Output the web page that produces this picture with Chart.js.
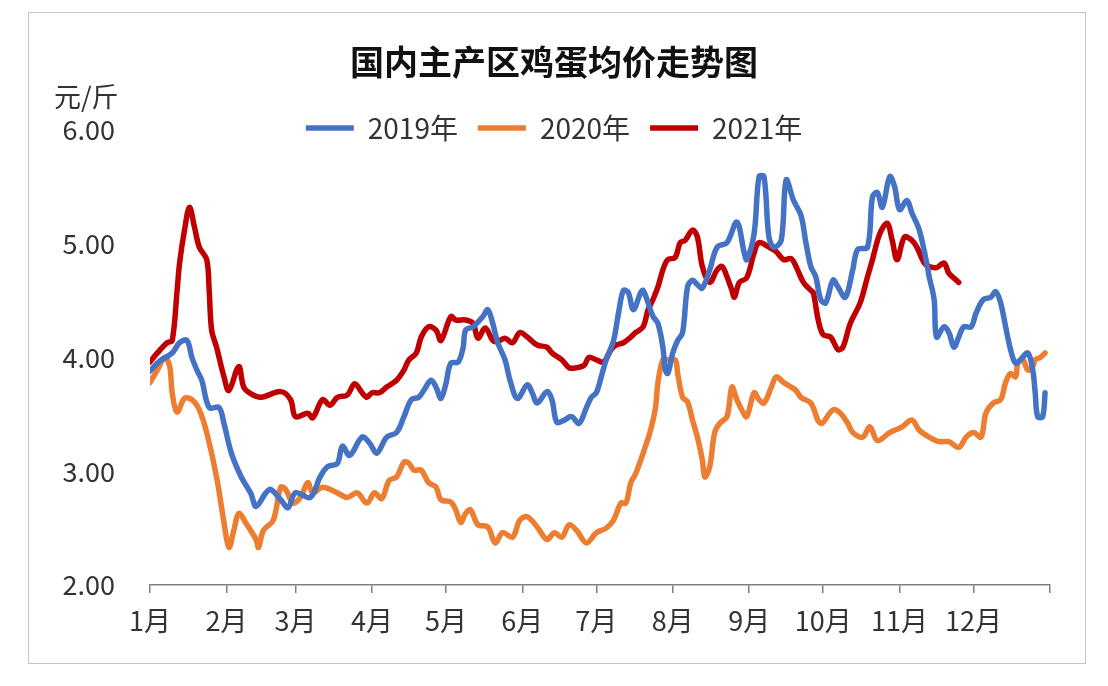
<!DOCTYPE html>
<html>
<head>
<meta charset="utf-8">
<title>国内主产区鸡蛋均价走势图</title>
<script src="https://cdn.jsdelivr.net/npm/chart.js@4.4.1/dist/chart.umd.min.js"></script>
<style>
  body { margin: 0; background: #fff; }
  #wrap { position: relative; width: 1108px; height: 686px; }
  #frame { position: absolute; left: 28px; top: 12px; width: 1056px; height: 650px;
           border: 1.5px solid #c4c4c4; pointer-events: none; }
</style>
</head>
<body>
<div id="wrap">
  <canvas id="eggChart" width="1108" height="686"></canvas>
  <div id="frame"></div>
</div>
<script>
// day of year (0 = 1月1日) and price in 元/斤
const days2019 = [0,4,9,12,15,17,19,21,24,28,
  30,33,37,41,43,47,49,53,56,59,
  65,69,72,76,78,81,86,89,92,96,
  100,103,106,109,111,114,116,118,120,122,
  125,127,128,131,135,137,139,141,144,146,
  149,153,155,157,161,163,165,168,171,174,
  177,179,181,183,185,188,190,192,194,196,
  199,200,202,204,206,208,209,210,212,214,
  216,218,220,222,224,227,230,234,238,241,
  242,245,247,249,251,253,256,258,261,264,
  266,268,270,272,274,277,279,282,285,287,
  291,293,295,297,300,302,304,307,309,312,
  315,316,318,319,322,324,326,328,330,333,
  335,338,341,343,345,347,349,351,353,356,
  358,359,360,362,363];
const price2019 = [3.88,3.97,4.04,4.13,4.15,4.00,3.89,3.80,3.56,3.56,
  3.42,3.16,2.95,2.80,2.69,2.81,2.84,2.75,2.68,2.81,
  2.77,2.95,3.04,3.07,3.22,3.14,3.30,3.25,3.16,3.30,
  3.34,3.48,3.63,3.65,3.71,3.80,3.74,3.64,3.77,3.95,
  3.96,4.09,4.24,4.27,4.36,4.42,4.30,4.13,3.98,3.80,
  3.64,3.76,3.69,3.60,3.70,3.63,3.43,3.45,3.48,3.42,
  3.56,3.65,3.69,3.83,3.98,4.15,4.39,4.59,4.57,4.42,
  4.57,4.59,4.48,4.36,4.30,4.09,3.89,3.86,4.04,4.15,
  4.22,4.62,4.68,4.64,4.61,4.77,4.97,5.01,5.19,4.92,
  4.86,5.09,5.59,5.59,5.06,4.97,5.03,5.56,5.38,5.25,
  5.01,4.80,4.71,4.51,4.48,4.68,4.62,4.53,4.77,4.95,
  4.97,5.41,5.45,5.32,5.59,5.50,5.30,5.38,5.27,5.12,
  4.83,4.71,4.51,4.18,4.27,4.22,4.09,4.18,4.27,4.27,
  4.39,4.51,4.53,4.58,4.48,4.27,4.07,3.95,3.98,4.04,
  3.89,3.69,3.48,3.48,3.69];

const days2020 = [0,3,6,8,9,11,14,17,20,23,
  27,30,32,34,36,39,43,44,46,50,
  53,55,58,61,64,66,70,76,80,84,
  88,91,94,97,100,103,105,107,110,113,
  116,118,122,124,126,128,130,133,137,140,
  143,147,150,153,157,161,164,167,170,173,
  177,181,185,188,191,193,195,197,200,203,
  205,206,208,210,213,214,216,218,220,222,
  224,225,227,229,231,234,236,238,240,242,
  245,247,249,252,254,257,260,262,264,268,
  272,277,280,283,285,289,292,295,300,305,
  309,312,316,320,324,328,331,334,337,339,
  342,345,347,349,351,352,354,356,358,359,
  361,363];
const price2020 = [3.78,3.89,4.00,3.92,3.69,3.52,3.64,3.63,3.54,3.34,
  2.95,2.55,2.33,2.48,2.63,2.54,2.40,2.33,2.48,2.57,
  2.86,2.84,2.72,2.77,2.90,2.81,2.86,2.81,2.77,2.81,
  2.72,2.81,2.76,2.92,2.95,3.08,3.07,3.01,3.01,2.90,
  2.86,2.75,2.73,2.66,2.55,2.63,2.66,2.53,2.51,2.37,
  2.46,2.42,2.57,2.60,2.51,2.40,2.46,2.42,2.53,2.48,
  2.37,2.46,2.50,2.57,2.72,2.72,2.90,2.98,3.16,3.36,
  3.56,3.78,3.98,3.98,3.98,3.86,3.65,3.61,3.45,3.30,
  3.10,2.95,3.04,3.34,3.42,3.48,3.74,3.63,3.54,3.48,
  3.69,3.63,3.60,3.74,3.83,3.78,3.74,3.71,3.65,3.60,
  3.42,3.54,3.51,3.42,3.34,3.30,3.39,3.27,3.34,3.39,
  3.45,3.36,3.30,3.26,3.26,3.21,3.30,3.34,3.30,3.51,
  3.60,3.63,3.78,3.86,3.83,3.95,3.98,3.89,3.92,3.98,
  4.00,4.04];

const days2021 = [0,3,7,9,11,12,14,16,18,20,
  23,24,25,27,30,32,36,38,41,45,
  53,57,59,64,66,70,73,76,80,83,
  86,88,90,93,96,100,103,105,108,110,
  113,116,118,122,124,128,131,133,136,139,
  141,144,147,150,153,157,161,163,167,170,
  173,176,178,181,184,187,189,192,195,197,
  200,202,204,206,208,210,213,215,217,220,
  222,224,227,230,232,234,236,237,239,242,
  245,247,251,254,257,260,262,265,268,269,
  271,273,276,279,281,284,288,291,293,296,
  299,301,303,306,309,311,314,316,319,322,
  324,327,328];
const price2021 = [3.96,4.04,4.13,4.15,4.59,4.83,5.12,5.32,5.15,4.97,
  4.86,4.59,4.24,4.09,3.83,3.71,3.92,3.74,3.68,3.65,
  3.70,3.63,3.48,3.51,3.47,3.63,3.58,3.65,3.67,3.77,
  3.69,3.65,3.69,3.69,3.74,3.80,3.89,3.98,4.04,4.18,
  4.27,4.24,4.15,4.36,4.33,4.33,4.30,4.17,4.26,4.15,
  4.14,4.17,4.13,4.22,4.18,4.11,4.09,4.04,3.98,3.91,
  3.91,3.93,4.00,3.98,3.96,4.07,4.11,4.13,4.18,4.22,
  4.27,4.42,4.51,4.62,4.77,4.86,4.88,5.01,5.03,5.12,
  5.06,4.80,4.66,4.77,4.80,4.71,4.59,4.53,4.66,4.70,
  4.92,5.01,4.97,4.93,4.86,4.87,4.80,4.66,4.59,4.57,
  4.33,4.20,4.18,4.07,4.09,4.30,4.48,4.71,4.86,5.09,
  5.18,5.03,4.86,5.06,5.03,4.97,4.83,4.80,4.79,4.83,
  4.74,4.68,4.66];

const monthStarts = [0,31,59,90,120,151,181,212,243,273,304,334,365];
const monthLabels = ['1月','2月','3月','4月','5月','6月','7月','8月','9月','10月','11月','12月',''];
const yTicks = [2, 3, 4, 5, 6];

const FONT = "'Noto Sans CJK SC', 'Noto Sans', sans-serif";
Chart.defaults.font.family = FONT;
Chart.defaults.color = '#333';

function toPoints(days, prices) {
  return days.map((d, i) => ({ x: d, y: prices[i] }));
}

function series(label, color, days, prices) {
  return {
    label: label,
    data: toPoints(days, prices),
    borderColor: color,
    backgroundColor: color,
    borderWidth: 5.5,
    pointRadius: 0,
    tension: 0.35,
    borderJoinStyle: 'round',
    borderCapStyle: 'round'
  };
}

// "元/斤" sits above the value axis
const unitLabel = {
  id: 'unitLabel',
  afterDraw(chart) {
    const ctx = chart.ctx;
    ctx.save();
    ctx.font = '27px ' + FONT;
    ctx.fillStyle = '#333';
    ctx.textBaseline = 'middle';
    ctx.fillText('元/斤', 54, 97);
    ctx.restore();
  }
};

// the legend row overlaps the 6.00 level in the original
const legendNudge = {
  id: 'legendNudge',
  afterLayout(chart) {
    chart.legend.top += 22;
    chart.legend.bottom += 22;
  }
};

new Chart(document.getElementById('eggChart'), {
  type: 'line',
  data: {
    datasets: [
      series('2019年', '#4472C4', days2019, price2019),
      series('2020年', '#ED7D31', days2020, price2020),
      series('2021年', '#C00000', days2021, price2021)
    ]
  },
  options: {
    responsive: false,
    animation: false,
    layout: { padding: { top: 0, left: 58, right: 58, bottom: 0 } },
    plugins: {
      title: {
        display: true,
        text: '国内主产区鸡蛋均价走势图',
        color: '#111',
        font: { size: 34, weight: 'bold' },
        padding: { top: 41.6, bottom: -10.4 }
      },
      legend: {
        position: 'top',
        labels: {
          usePointStyle: true,
          pointStyle: 'line',
          pointStyleWidth: 48,
          padding: 20,
          color: '#333',
          font: { size: 28 }
        }
      },
      tooltip: { enabled: false }
    },
    scales: {
      x: {
        type: 'linear',
        min: 0,
        max: 365,
        afterBuildTicks: s => { s.ticks = monthStarts.map(v => ({ value: v })); },
        afterFit: s => { s.height = 101; },
        ticks: {
          autoSkip: false,
          maxRotation: 0,
          padding: 12,
          color: '#333',
          font: { size: 27 },
          callback: (v, i) => monthLabels[i]
        },
        grid: { drawOnChartArea: false, drawTicks: true, tickLength: 8, color: '#7f7f7f', lineWidth: 1.5 },
        border: { display: true, color: '#7f7f7f', width: 1.5 }
      },
      y: {
        min: 2,
        max: 6,
        afterBuildTicks: s => { s.ticks = yTicks.map(v => ({ value: v })); },
        afterFit: s => { s.width = 92; },
        ticks: {
          padding: 35,
          color: '#333',
          font: { size: 27 },
          callback: v => v.toFixed(2)
        },
        grid: { display: false, drawTicks: false },
        border: { display: false }
      }
    }
  },
  plugins: [unitLabel, legendNudge]
});
</script>
</body>
</html>
